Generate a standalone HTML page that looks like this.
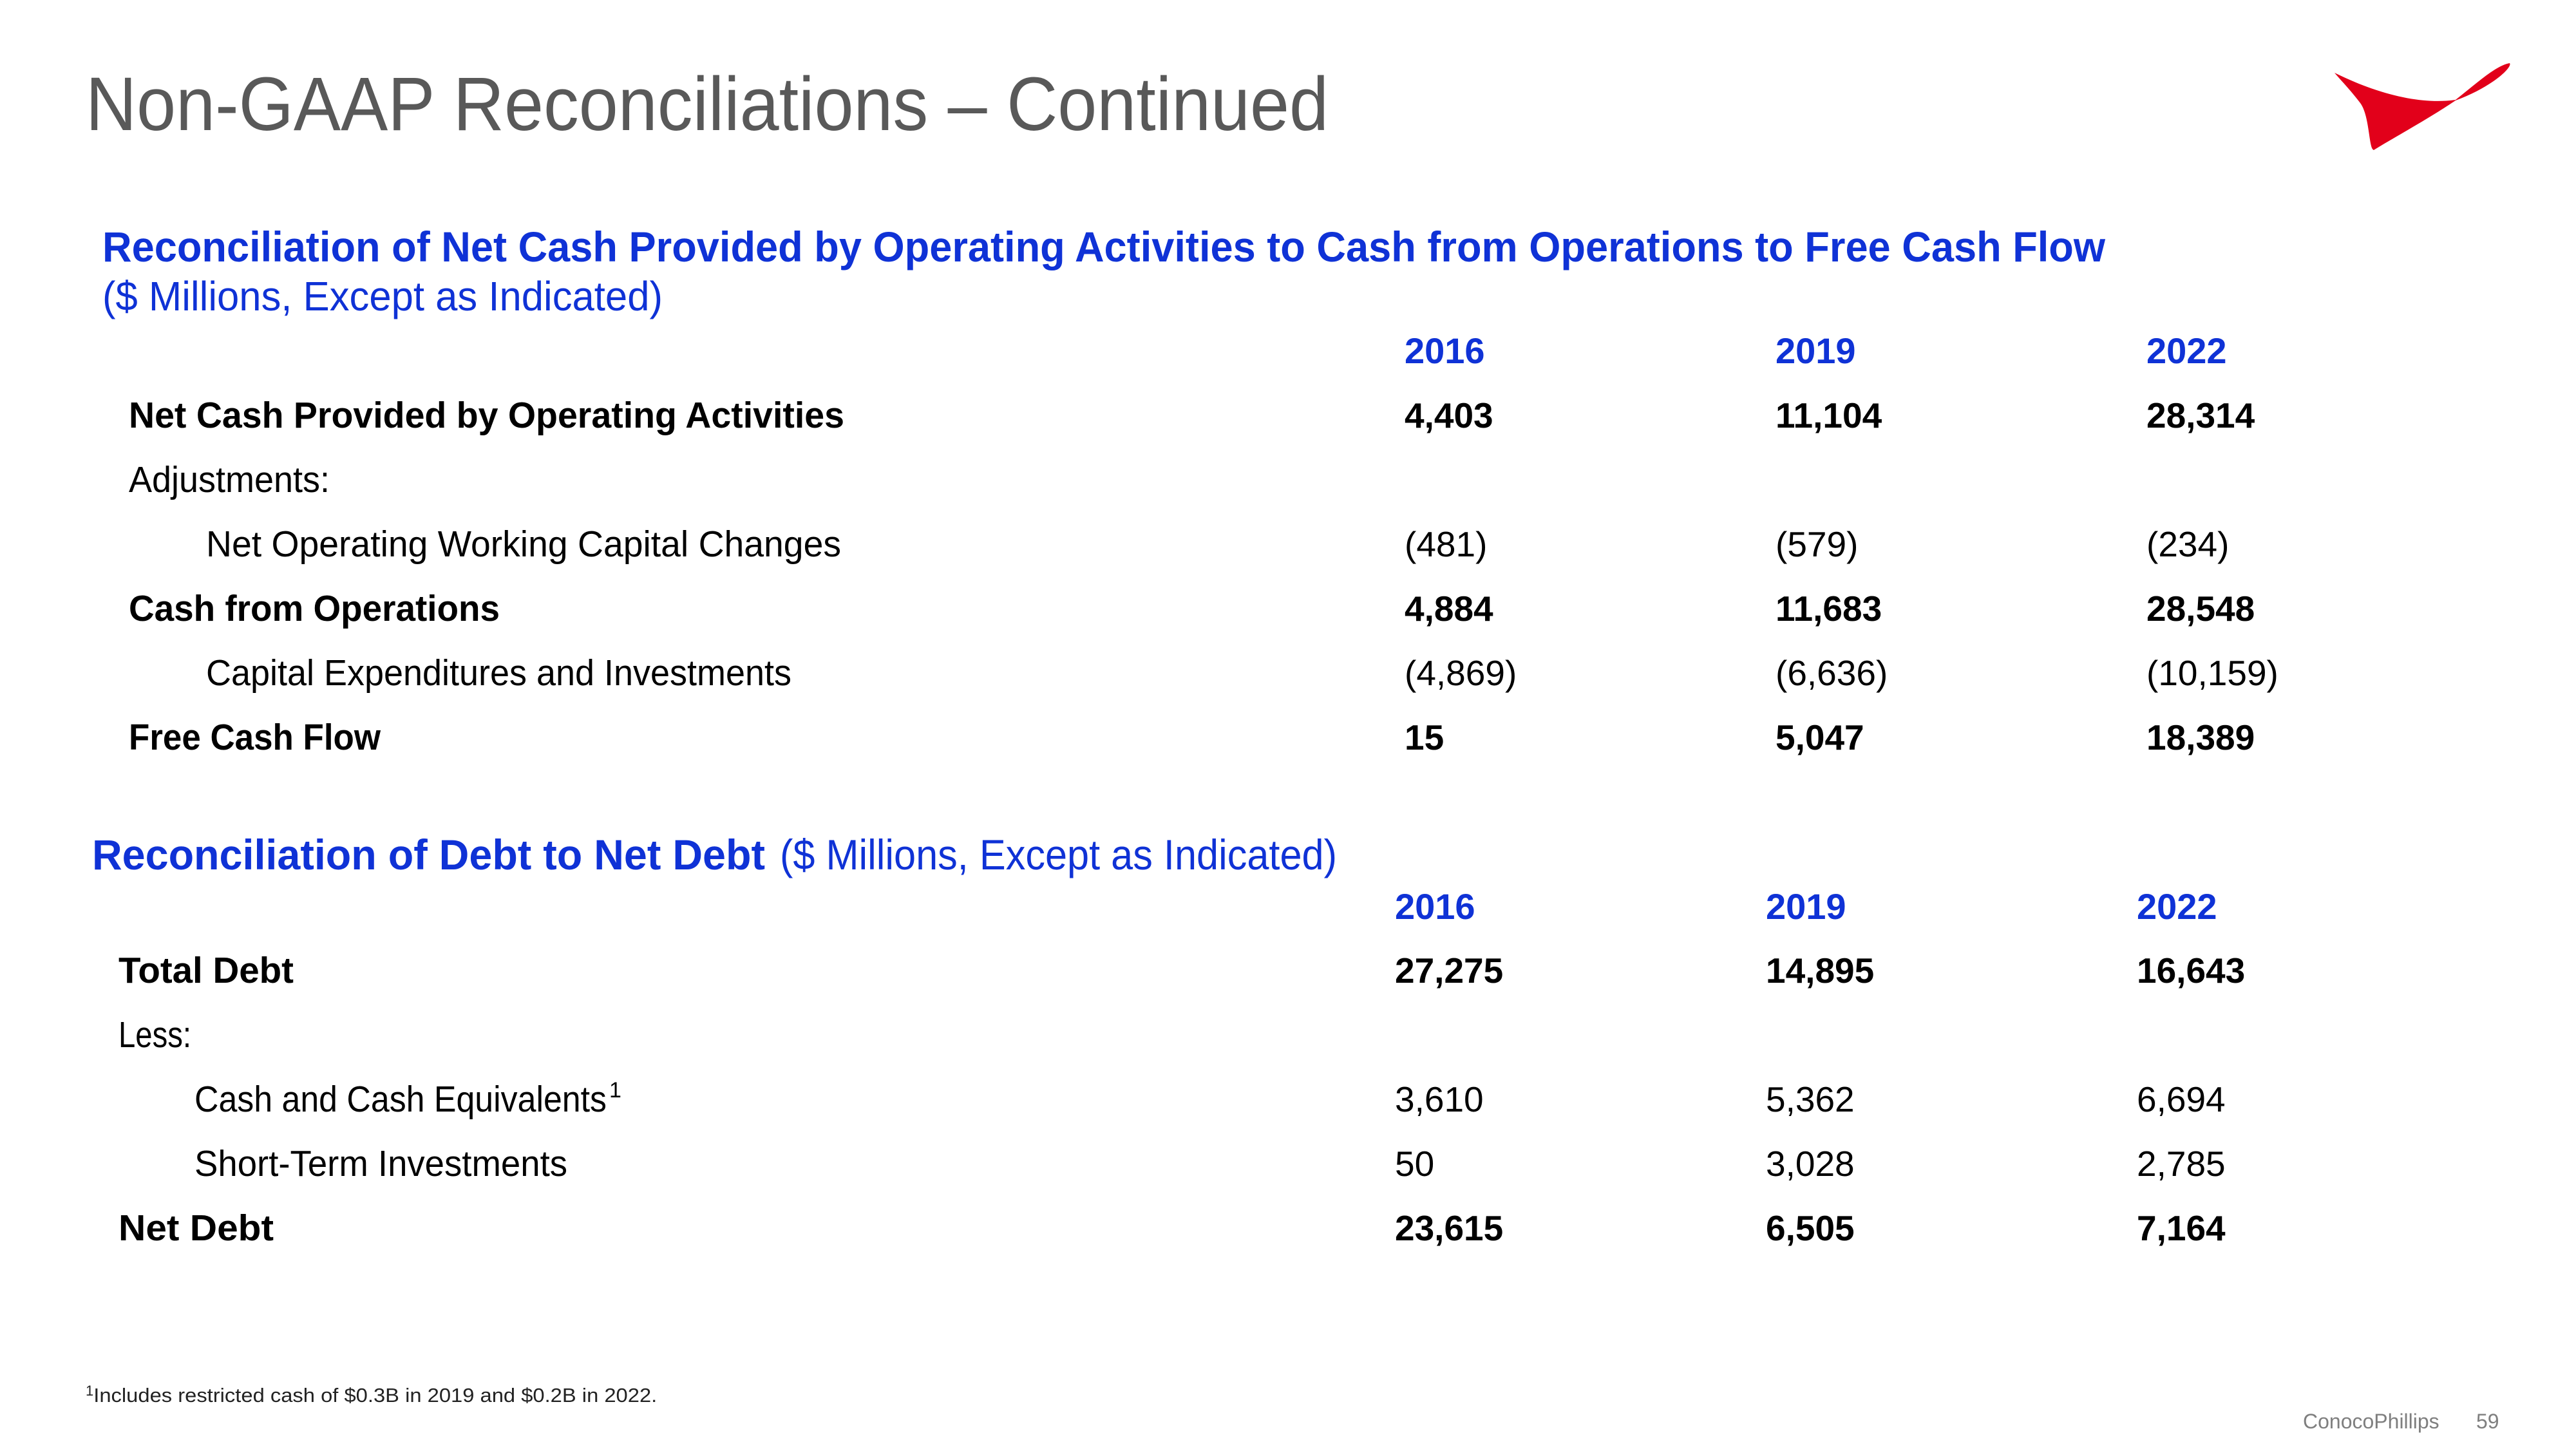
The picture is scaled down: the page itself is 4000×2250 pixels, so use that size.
<!DOCTYPE html>
<html><head><meta charset="utf-8"><style>
html,body{margin:0;padding:0;background:#fff;}
svg{display:block;}
text{font-family:"Liberation Sans",sans-serif;}
</style></head><body>
<svg id="s" width="4000" height="2250" viewBox="0 0 4000 2250" xmlns="http://www.w3.org/2000/svg">
<text x="133" y="202" font-size="118" fill="#595959" textLength="1930" lengthAdjust="spacingAndGlyphs">Non-GAAP Reconciliations – Continued</text>
<path d="M3625,113 C3700,150 3765,162 3813,155 C3845,130 3875,102 3897,98 C3902,104 3870,135 3813,156 C3770,185 3715,215 3686,233 C3678,232 3680,180 3665,160 C3650,140 3635,125 3625,113 Z" fill="#e2001a"/>
<text x="159" y="406" font-size="66" font-weight="bold" fill="#0f32d6" textLength="3110" lengthAdjust="spacingAndGlyphs">Reconciliation of Net Cash Provided by Operating Activities to Cash from Operations to Free Cash Flow</text>
<text x="159" y="482" font-size="64" fill="#0f32d6" textLength="870" lengthAdjust="spacingAndGlyphs">($ Millions, Except as Indicated)</text>
<text x="143" y="1350" font-size="66" fill="#0f32d6"><tspan font-weight="bold" textLength="1045" lengthAdjust="spacingAndGlyphs">Reconciliation of Debt to Net Debt</tspan><tspan x="1211" textLength="865" lengthAdjust="spacingAndGlyphs">($ Millions, Except as Indicated)</tspan></text>
<g id="t1"></g><g id="t2"></g>
<text x="133" y="2177" font-size="31" fill="#222"><tspan font-size="22" dy="-10">1</tspan><tspan dy="10" textLength="875" lengthAdjust="spacingAndGlyphs">Includes restricted cash of $0.3B in 2019 and $0.2B in 2022.</tspan></text>
<text x="3576" y="2218" font-size="32" fill="#7f7f7f">ConocoPhillips</text>
<text x="3845" y="2218" font-size="32" fill="#7f7f7f">59</text>
</svg>
<script>
const years = ["2016","2019","2022"];
const fcfLabels = ["Net Cash Provided by Operating Activities","Adjustments:","Net Operating Working Capital Changes","Cash from Operations","Capital Expenditures and Investments","Free Cash Flow"];
const fcfBold = [1,0,0,1,0,1];
const fcfIndent = [0,0,1,0,1,0];
const fcfWidths = [1111,312,986,576,909,391];
const fcfValues = [["4,403","11,104","28,314"],["","",""],["(481)","(579)","(234)"],["4,884","11,683","28,548"],["(4,869)","(6,636)","(10,159)"],["15","5,047","18,389"]];
const debtLabels = ["Total Debt","Less:","Cash and Cash Equivalents","Short-Term Investments","Net Debt"];
const debtBold = [1,0,0,0,1];
const debtIndent = [0,0,1,1,0];
const debtWidths = [272,113,640,579,241];
const debtValues = [["27,275","14,895","16,643"],["","",""],["3,610","5,362","6,694"],["50","3,028","2,785"],["23,615","6,505","7,164"]];
const NS="http://www.w3.org/2000/svg";
function txt(g,x,y,s,opts){const t=document.createElementNS(NS,'text');t.setAttribute('x',x);t.setAttribute('y',y);t.setAttribute('font-size',opts.size||57);t.setAttribute('fill',opts.fill||'#000');if(opts.bold)t.setAttribute('font-weight','bold');if(opts.len){t.setAttribute('textLength',opts.len);t.setAttribute('lengthAdjust','spacingAndGlyphs');}t.textContent=s;g.appendChild(t);return t;}
function table(gid,labels,bold,indent,widths,values,x0,xi,cols,yHead,y0,step,prefix){
 const g=document.getElementById(gid);
 years.forEach((y,i)=>{const t=txt(g,cols[i],yHead,y,{bold:1,fill:'#0f32d6',size:56});
  
  });
 labels.forEach((l,r)=>{const yy=y0+r*step;
  const t=txt(g,indent[r]?xi:x0,yy,l,{bold:bold[r],len:widths[r]});
  
  
  if(prefix==='debt'&&r===2){const s=txt(g,(xi+widths[r]+4),yy-22,'1',{size:34});
   
   }
  values[r].forEach((v,c)=>{if(!v)return;const n=txt(g,cols[c],yy,v,{bold:bold[r],size:55});
   
   });
 });
}
table('t1',fcfLabels,fcfBold,fcfIndent,fcfWidths,fcfValues,200,320,[2181,2757,3333],564,664,100,'fcf');
table('t2',debtLabels,debtBold,debtIndent,debtWidths,debtValues,184,302,[2166,2742,3318],1427,1526,100,'debt');
</script>
</body></html>
